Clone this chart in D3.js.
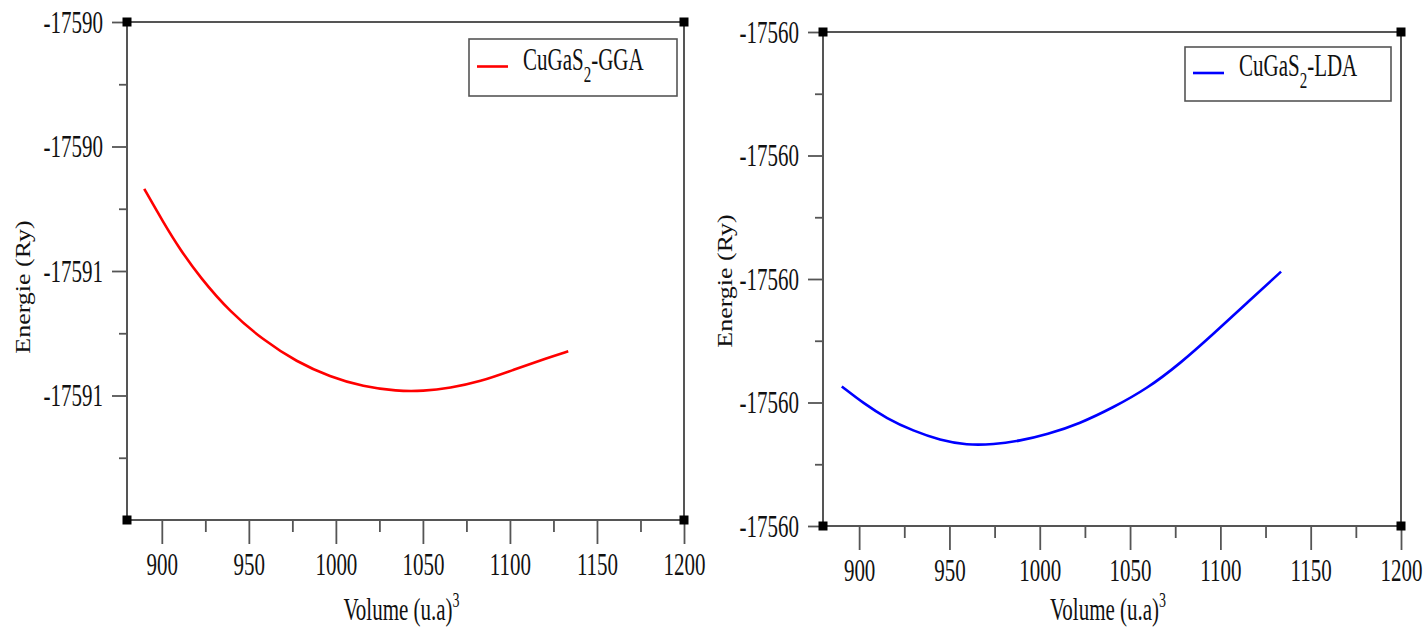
<!DOCTYPE html>
<html>
<head>
<meta charset="utf-8">
<script src="https://cdn.jsdelivr.net/npm/d3@7"></script>
<style>
  html, body { margin: 0; padding: 0; background: #fff; }
  svg { display: block; font-family: "Liberation Serif", "Times New Roman", serif; }
</style>
</head>
<body>
<svg id="chart" width="1426" height="628"></svg>
<script>
const ggaVolume = [889.9, 900.9, 910.4, 921.9, 939.2, 958.3, 977.5, 996.6, 1015.8, 1034.9, 1050.2, 1065.6, 1082.8, 1101.9, 1121.1, 1133.5];
const ggaEnergy = [-17590.468, -17590.522, -17590.565, -17590.610, -17590.666, -17590.711, -17590.746, -17590.770,
                   -17590.786, -17590.793, -17590.793, -17590.788, -17590.778, -17590.759, -17590.740, -17590.729];

const ldaVolume = [890.4, 902.3, 915.3, 930.0, 944.8, 959.6, 974.3, 989.1, 1003.9, 1022.3, 1040.7, 1059.2, 1077.7, 1096.1, 1114.6, 1133.6];
const ldaEnergy = [-17560.174, -17560.201, -17560.226, -17560.246, -17560.261, -17560.269, -17560.268, -17560.262,
                   -17560.252, -17560.234, -17560.208, -17560.178, -17560.137, -17560.089, -17560.039, -17559.988];

// axes
const xTicks = [900, 950, 1000, 1050, 1100, 1150, 1200];
const xMinorTicks = [925, 975, 1025, 1075, 1125, 1175];
const ggaYTicks = [-17590.2, -17590.4, -17590.6, -17590.8];
const ggaYMinor = [-17590.3, -17590.5, -17590.7, -17590.9];
const ldaYTicks = [-17559.6, -17559.8, -17560.0, -17560.2, -17560.4];
const ldaYMinor = [-17559.7, -17559.9, -17560.1, -17560.3];

const svg = d3.select("#chart");
const stretch = 1.5; // the original picture is squashed tall
const fmt = d => String(Math.round(d)); // plain hyphen, rounded like the source

function drawPanel(p) {
  const x = d3.scaleLinear().domain([880, 1200]).range([p.left, p.right]);
  const y = d3.scaleLinear().domain(p.yDomain).range([p.bottom, p.top]);
  const g = svg.append("g");

  // y axis (major + minor)
  const yAx = g.append("g").attr("transform", `translate(${p.left},0)`)
    .call(d3.axisLeft(y).tickValues(p.yTicks).tickSize(15).tickPadding(9).tickFormat(fmt));
  g.append("g").attr("transform", `translate(${p.left},0)`)
    .call(d3.axisLeft(y).tickValues(p.yMinor).tickSize(8).tickFormat(""));

  // x axis (major + minor)
  const xAx = g.append("g").attr("transform", `translate(0,${p.bottom})`)
    .call(d3.axisBottom(x).tickValues(xTicks).tickSize(24).tickFormat(d3.format("d")));
  g.append("g").attr("transform", `translate(0,${p.bottom})`)
    .call(d3.axisBottom(x).tickValues(xMinorTicks).tickSize(12).tickFormat(""));

  g.selectAll(".domain").remove();
  g.selectAll(".tick line").attr("stroke", "#555").attr("stroke-width", 1.8);
  g.selectAll(".tick text").attr("font-family", "Liberation Serif").attr("font-size", 21).attr("fill", "#111");
  yAx.selectAll(".tick text").attr("transform", `scale(1,${stretch})`);
  xAx.selectAll(".tick text").attr("dy", 0).attr("y", 37).attr("transform", `scale(1,${stretch})`);

  // frame
  g.append("rect")
    .attr("x", p.left).attr("y", p.top)
    .attr("width", p.right - p.left).attr("height", p.bottom - p.top)
    .attr("fill", "none").attr("stroke", "#555").attr("stroke-width", 2);

  // corner markers
  [[p.left, p.top], [p.right, p.top], [p.left, p.bottom], [p.right, p.bottom]].forEach(c => {
    g.append("rect").attr("x", c[0] - 4.5).attr("y", c[1] - 4.5)
      .attr("width", 9).attr("height", 9).attr("fill", "#000");
  });

  // curve
  const pts = p.vol.map((v, i) => [v, p.en[i]]);
  g.append("path")
    .datum(pts)
    .attr("fill", "none")
    .attr("stroke", p.color)
    .attr("stroke-width", 2.6)
    .attr("d", d3.line().x(d => x(d[0])).y(d => y(d[1])).curve(d3.curveBasis));

  // axis titles
  const xt = g.append("g").attr("transform", `translate(${(p.left + p.right) / 2 - 4},620) scale(1,${stretch})`)
    .append("text").attr("text-anchor", "middle").attr("font-size", 21).attr("fill", "#111");
  xt.append("tspan").text("Volume (u.a)");
  xt.append("tspan").attr("font-size", 14).attr("dy", -9).text("3");

  g.append("g").attr("transform", `translate(${p.yTitleX},${p.yTitleY}) scale(1,1.3) rotate(-90)`)
    .append("text").attr("text-anchor", "middle").attr("font-size", 20)
    .attr("fill", "#111").text("Energie (Ry)");

  // legend
  const lg = g.append("g");
  lg.append("rect").attr("x", p.legend[0]).attr("y", p.legend[1])
    .attr("width", p.legend[2]).attr("height", p.legend[3])
    .attr("fill", "#fff").attr("stroke", "#555").attr("stroke-width", 1.6);
  const ly = p.legend[1] + p.legend[3] / 2 - 1;
  lg.append("line").attr("x1", p.legend[0] + 8).attr("x2", p.legend[0] + 39)
    .attr("y1", ly).attr("y2", ly).attr("stroke", p.color).attr("stroke-width", 2.6);
  const lt = lg.append("g").attr("transform", `translate(${p.legend[0] + 54},${ly + 3}) scale(1,${stretch})`)
    .append("text").attr("font-size", 21).attr("fill", "#111");
  lt.append("tspan").text("CuGaS");
  lt.append("tspan").attr("font-size", 15).attr("dy", 8).text("2");
  lt.append("tspan").attr("dy", -8).text(p.label);
}

drawPanel({
  left: 127, right: 684, top: 22, bottom: 520,
  yDomain: [-17591.0, -17590.2], yTicks: ggaYTicks, yMinor: ggaYMinor,
  vol: ggaVolume, en: ggaEnergy, color: "#ff0000",
  yTitleX: 30, yTitleY: 287,
  legend: [469, 39, 208, 57], label: "-GGA"
});

drawPanel({
  left: 823, right: 1401, top: 32, bottom: 526,
  yDomain: [-17560.4, -17559.6], yTicks: ldaYTicks, yMinor: ldaYMinor,
  vol: ldaVolume, en: ldaEnergy, color: "#0000ff",
  yTitleX: 732, yTitleY: 281,
  legend: [1185, 47, 206, 54], label: "-LDA"
});
</script>
</body>
</html>
